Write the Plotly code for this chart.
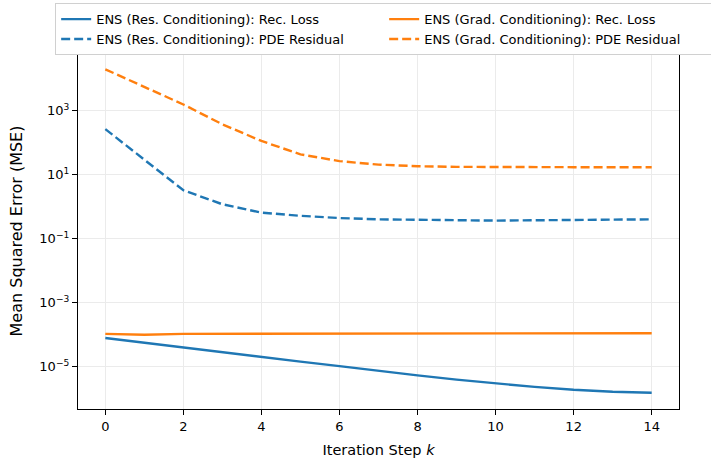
import plotly.graph_objects as go

steps = list(range(15))
res_rec_log = [-4.11, -4.26, -4.42, -4.56, -4.71, -4.85, -4.99, -5.14, -5.28, -5.41, -5.53, -5.64, -5.73, -5.79, -5.82]
grad_rec_log = [-3.98, -4.01, -3.98, -3.98, -3.98, -3.98, -3.98, -3.98, -3.98, -3.98, -3.975, -3.97, -3.97, -3.965, -3.96]
res_pde_log = [2.42, 1.45, 0.51, 0.07, -0.19, -0.29, -0.36, -0.40, -0.42, -0.43, -0.44, -0.43, -0.42, -0.41, -0.40]
grad_pde_log = [4.29, 3.74, 3.19, 2.57, 2.05, 1.63, 1.42, 1.31, 1.26, 1.24, 1.23, 1.23, 1.23, 1.23, 1.23]

res_rec = [10 ** v for v in res_rec_log]
grad_rec = [10 ** v for v in grad_rec_log]
res_pde = [10 ** v for v in res_pde_log]
grad_pde = [10 ** v for v in grad_pde_log]

ytick_vals = [1e-5, 1e-3, 1e-1, 1e1, 1e3]
ytick_text = ["10<sup>−5</sup>", "10<sup>−3</sup>", "10<sup>−1</sup>", "10<sup>1</sup>", "10<sup>3</sup>"]

BLUE = "#1f77b4"
ORANGE = "#ff7f0e"

fig = go.Figure()
fig.add_trace(go.Scatter(x=steps, y=res_rec, mode="lines", name="ENS (Res. Conditioning): Rec. Loss",
                         line=dict(color=BLUE, width=2.4)))
fig.add_trace(go.Scatter(x=steps, y=grad_rec, mode="lines", name="ENS (Grad. Conditioning): Rec. Loss",
                         line=dict(color=ORANGE, width=2.4)))
fig.add_trace(go.Scatter(x=steps, y=res_pde, mode="lines", name="ENS (Res. Conditioning): PDE Residual",
                         line=dict(color=BLUE, width=2.4, dash="9px,4px")))
fig.add_trace(go.Scatter(x=steps, y=grad_pde, mode="lines", name="ENS (Grad. Conditioning): PDE Residual",
                         line=dict(color=ORANGE, width=2.4, dash="9px,4px")))

fig.update_layout(
    width=711, height=466,
    margin=dict(l=78, r=32, t=53, b=57, autoexpand=False),
    paper_bgcolor="white", plot_bgcolor="white",
    font=dict(family="DejaVu Sans", size=13, color="black"),
    showlegend=True,
    legend=dict(orientation="h", x=-0.038, y=1.140, xanchor="left", yanchor="top",
                entrywidth=283, entrywidthmode="pixels",
                font=dict(size=13), bordercolor="#d0d0d0", borderwidth=1,
                bgcolor="white", tracegroupgap=0),
    xaxis=dict(range=[-0.7, 14.7], tickvals=[0, 2, 4, 6, 8, 10, 12, 14],
               showline=True, linecolor="black", linewidth=1.2, mirror=True,
               ticks="outside", ticklen=5, tickcolor="black",
               showgrid=True, gridcolor="#ebebeb", gridwidth=1, zeroline=False,
               title=dict(text="Iteration Step <i>k</i>", font=dict(size=14.5), standoff=12)),
    yaxis=dict(type="log", range=[-6.33, 4.8], tickvals=ytick_vals, ticktext=ytick_text,
               showline=True, linecolor="black", linewidth=1.2, mirror=True,
               ticks="outside", ticklen=5, tickcolor="black",
               showgrid=True, gridcolor="#ebebeb", gridwidth=1, zeroline=False,
               title=dict(text="Mean Squared Error (MSE)", font=dict(size=16), standoff=12)),
)

fig.write_html("out.html")
